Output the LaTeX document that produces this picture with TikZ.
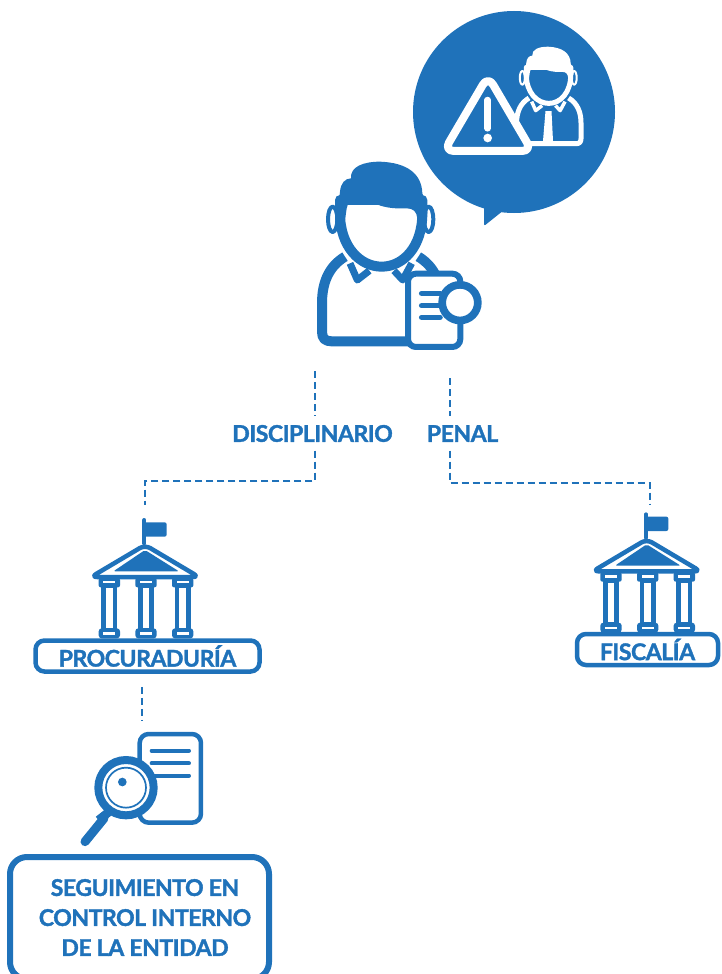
\documentclass[tikz,border=0pt]{standalone}
\usepackage{fontspec}
\setmainfont{Lato}[BoldFeatures={FakeBold=1.6,LetterSpace=-2}]
\definecolor{azul}{HTML}{1F72BA}
\tikzset{
  dashline/.style={azul,line width=1.7pt,dash pattern=on 7pt off 4pt},
  etiqueta/.style={text=azul,font=\bfseries\fontsize{23}{30}\selectfont,inner sep=0pt,align=center},
  cajita/.style={draw=azul,line width=4.5pt,rounded corners=9pt,inner sep=0pt,
    text=azul,font=\bfseries\fontsize{23}{30}\selectfont},
  raya/.style={azul,line cap=round}
}
% persona: color de linea, relleno, shift, escala, grosor
\newcommand{\personicon}[5]{
  \begin{scope}[shift={#3},scale=#4,line width=#5,line join=round]
    \draw[#1,fill=#2] (135,770) .. controls (85,800) and (66,850) .. (66,910) -- (66,995)
      .. controls (66,1015) and (75,1024) .. (95,1024) -- (395,1024)
      .. controls (415,1024) and (424,1015) .. (424,995) -- (424,910)
      .. controls (424,850) and (405,800) .. (355,770);
    \draw[#1,fill=#2,line width=0.7*#5] (150,790) -- (172,840) -- (208,812);
    \draw[#1,fill=#2,line width=0.7*#5] (282,812) -- (308,840) -- (335,790);
    \draw[#1,fill=#2,line width=0.4*#5] (98,658) ellipse (14 and 38);
    \draw[#1,fill=#2,line width=0.4*#5] (386,658) ellipse (14 and 38);
    \draw[#1,fill=#2] (120,640) .. controls (120,740) and (180,800) .. (245,800)
      .. controls (310,800) and (367,740) .. (367,640) -- (367,600) -- (120,600) -- cycle;
    \fill[#1] (105,640) .. controls (110,610) and (118,600) .. (120,575)
      .. controls (122,550) and (135,535) .. (153,535)
      .. controls (150,500) and (190,485) .. (240,485)
      .. controls (320,488) and (365,520) .. (367,580)
      .. controls (375,600) and (380,615) .. (382,640) -- (352,655)
      .. controls (350,635) and (340,625) .. (320,625)
      .. controls (260,628) and (220,615) .. (180,585)
      .. controls (165,597) and (140,605) .. (140,625) -- (135,660) -- cycle;
  \end{scope}
}
% edificio con bandera
\newcommand{\bankicon}[1]{
  \begin{scope}[shift={#1},scale=1/3]
    \draw[raya,line width=4pt] (373,60) -- (373,130);
    \fill[azul,rounded corners=2pt] (373,67) rectangle (440,110);
    \draw[azul,fill=white,line width=4.5pt,line join=round,rounded corners=6pt] (375,135) -- (537,231) -- (213,231) -- cycle;
    \fill[azul,rounded corners=2pt] (375,150) -- (477,214) -- (280,214) -- cycle;
    \foreach \cx in {268,378,488} {
      \draw[azul,fill=white,line width=4.5pt] (\cx-17,258) rectangle (\cx+17,390);
      \fill[azul,rounded corners=2pt] (\cx-32,234) rectangle (\cx+32,262);
      \fill[white] (\cx-18,243) rectangle (\cx+18,250);
      \fill[azul,rounded corners=3pt] (\cx-32,385) rectangle (\cx+32,415);
      \fill[white] (\cx-18,397) rectangle (\cx+18,405);
    }
  \end{scope}
}
\begin{document}
\begin{tikzpicture}[x=1pt,y=-1pt]
\useasboundingbox (0,0) rectangle (721,974);
% burbuja
\fill[azul] (514,112) circle (101);
\fill[azul,rounded corners=2pt] (484,200) -- (484,226) -- (504,210) -- cycle;
\personicon{white}{azul}{(504.7,-40.6)}{0.18}{5pt}
\fill[white] (545.5,111) -- (551.5,111) -- (553,141) -- (543,141) -- cycle;
\begin{scope}[shift={(300,0)},scale=1/3]
  \draw[white,fill=azul,line width=8pt,line join=round,rounded corners=10pt] (564,228) -- (696,453) -- (432,453) -- cycle;
  \draw[white,line width=6.5pt,line cap=round] (563,300) -- (563,385);
  \fill[white] (563,414) circle (13);
\end{scope}
% persona grande
\personicon{azul}{white}{(300,0)}{1/3}{10pt}
\begin{scope}[shift={(300,0)},scale=1/3]
  \draw[azul,fill=white,line width=6pt,rounded corners=8pt] (324,821) rectangle (481,1041);
  \draw[azul,fill=white,line width=7.7pt] (480,908) circle (53.5);
  \foreach \ly in {880,917,952} {
    \draw[raya,line width=5.5pt] (365,\ly) -- (420,\ly);
  }
\end{scope}
% etiquetas
\node[etiqueta,minimum height=34pt] (disciplinario) at (312.5,433.5) {DISCIPLINARIO};
\node[etiqueta,minimum height=34pt] (penal) at (462.5,433.5) {PENAL};
% edificios
\bankicon{(20,500)}
\bankicon{(521.67,494.33)}
\node[cajita,minimum width=224pt,minimum height=31pt] (procuraduria) at (147.5,656) {PROCURADURÍA};
\node[cajita,minimum width=141pt,minimum height=31pt] (fiscalia) at (647.5,649.5) {FISCALÍA};
% lupa y documento
\begin{scope}[shift={(0,720)},scale=1/3]
  \draw[azul,fill=white,line width=4.5pt,rounded corners=9pt] (419,42) rectangle (603,308);
  \foreach \ly in {92,130,167} {
    \draw[raya,line width=4pt] (455,\ly) -- (567,\ly);
  }
  \draw[raya,line width=9pt] (312,295) -- (255,365);
  \fill[azul,rotate around={38:(315,285)}] (290,272) rectangle (340,298);
  \draw[azul,fill=white,line width=8pt] (378,203) circle (83);
  \draw[azul,line width=1.7pt] (378,203) circle (60);
  \fill[azul] (367,186) circle (13);
\end{scope}
\node[cajita,line width=6pt,rounded corners=17pt,minimum width=259pt,minimum height=122pt] (seguimientobox) at (139.5,918) {};
\node[etiqueta] (seguimiento) at (145,917.5) {SEGUIMIENTO EN\\CONTROL INTERNO\\DE LA ENTIDAD};
% conectores
\coordinate (disctop) at (315,371);
\coordinate (penaltop) at (450,378);
\coordinate (procurtop) at (145,505);
\coordinate (fiscaltop) at (650,505);
\coordinate (lupatop) at (142,720);
\coordinate (discdown) at (315,481);
\coordinate (penaldown) at (450,483);
\draw[dashline] (disctop) -- (disctop |- disciplinario.north);
\draw[dashline] (discdown |- disciplinario.south) -- (discdown) -- (discdown -| procurtop) -- (procurtop);
\draw[dashline] (penaltop) -- (penaltop |- penal.north);
\draw[dashline] (penaldown |- penal.south) -- (penaldown) -- (penaldown -| fiscaltop) -- (fiscaltop);
\draw[dashline] (lupatop |- procuraduria.south) ++(0,13) -- (lupatop);
\end{tikzpicture}
\end{document}
